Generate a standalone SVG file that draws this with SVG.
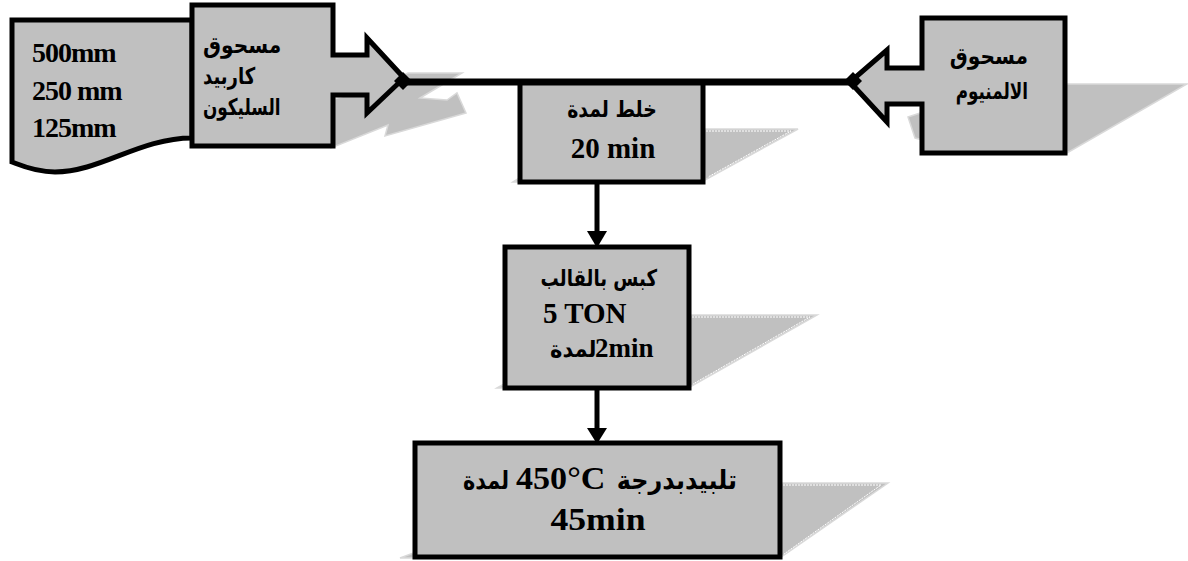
<svg xmlns="http://www.w3.org/2000/svg" width="1188" height="561" viewBox="0 0 1188 561">
<style>
.box{fill:#c0c0c0;stroke:#000;stroke-width:5;stroke-linejoin:miter}
.sh{fill:#c0c0c0;stroke:#d9d9d9;stroke-width:1.5}
.shl{fill:none;stroke:#fff;stroke-width:1;stroke-dasharray:2 1}
.lat{font-family:"Liberation Serif","DejaVu Sans",serif;font-weight:bold;fill:#000}
.ar{font-family:"DejaVu Sans",sans-serif;font-weight:bold;fill:#000}
.ln{stroke:#000;fill:none}
</style>

<g id="shadows">
<polygon class="sh" points="408,73 462,73 420,98 447,100 457,93 466,113 385,136 388,125 331,148 331,100 380,85"/>
<polygon class="sh" points="703,129 798,129 705,180"/>
<polyline class="shl" points="706,131 791,131 708,177"/>
<polygon class="sh" points="513,182 521,177 521,182"/>
<polygon class="sh" points="689,315 817,315 690,387"/>
<polyline class="shl" points="692,317 810,317 693,384"/>
<polygon class="sh" points="497,388 506,383 506,388"/>
<polygon class="sh" points="780,483 888,483 781,557"/>
<polyline class="shl" points="783,485 881,485 784,554"/>
<polygon class="sh" points="400,558 416,552 416,558"/>
<polygon class="sh" points="1065,84 1187,84 1067,153"/>
<polygon class="sh" points="908,117 923,112 923,140 915,138"/>
</g>

<g id="sizes">
<path class="box" d="M12,20 L192,20 L192,138 C140,138 100,172 55,172 C35,172 20,165 12,162 Z"/>
<text class="lat" font-size="28" x="32" y="62" letter-spacing="-1">500mm</text>
<text class="lat" font-size="28" x="32" y="100" letter-spacing="-1">250 mm</text>
<text class="lat" font-size="28" x="32" y="137" letter-spacing="-1">125mm</text>
</g>

<g id="sic">
<polygon class="box" points="192,5 333,5 333,55 367,55 367,38 404,78 367,113 367,95 333,95 333,146 192,146"/>
<text class="ar" font-size="23" transform="translate(203,53) scale(0.877,1)">مسحوق</text>
<text class="ar" font-size="23" transform="translate(203,84) scale(0.785,1)">كاربيد</text>
<text class="ar" font-size="23" transform="translate(203,115) scale(0.73,1)">السليكون</text>
</g>

<g id="al">
<polygon class="box" points="1065,18 922,18 922,68 887,68 887,50 850,82 887,122 887,104 922,104 922,153 1065,153"/>
<text class="ar" font-size="23" text-anchor="end" transform="translate(1028,64) scale(0.877,1)">مسحوق</text>
<text class="ar" font-size="23" text-anchor="end" transform="translate(1028,99) scale(0.73,1)">الالمنيوم</text>
</g>

<g id="connectors">
<line class="ln" x1="403" y1="82" x2="853" y2="82" stroke-width="7"/>
<polygon points="403,72 412,81 403,90 394,81" fill="#000"/>
<polygon points="853,72 862,81 853,90 844,81" fill="#000"/>
<line class="ln" x1="597" y1="182" x2="597" y2="233" stroke-width="5"/>
<polygon points="587,231 607,231 597,248" fill="#000"/>
<line class="ln" x1="597" y1="388" x2="597" y2="430" stroke-width="5"/>
<polygon points="587,428 607,428 597,444" fill="#000"/>
</g>

<g id="mix">
<rect class="box" x="520" y="83" width="183" height="99"/>
<text class="ar" font-size="23" text-anchor="middle" transform="translate(612,117) scale(0.82,1)">خلط لمدة</text>
<text class="lat" font-size="29" x="613" y="158" text-anchor="middle">20 min</text>
</g>

<g id="press">
<rect class="box" x="505" y="247" width="184" height="141"/>
<text class="ar" font-size="23" text-anchor="end" transform="translate(657,286) scale(0.79,1)">كبس بالقالب</text>
<text class="lat" font-size="29" x="543" y="323">5 TON</text>
<text class="ar" font-size="23" transform="translate(550,357) scale(0.913,1)">لمدة</text>
<text class="lat" font-size="27" x="595" y="357">2min</text>
</g>

<g id="sinter">
<rect class="box" x="415" y="443" width="365" height="114"/>
<text class="ar" font-size="25" transform="translate(463,489) scale(0.83,1)">لمدة</text>
<text class="lat" font-size="31" transform="translate(516,489) scale(1.1,1)">450°C</text>
<text class="ar" font-size="26" text-anchor="end" transform="translate(737,489) scale(0.92,1)">تلبيدبدرجة</text>
<text class="lat" font-size="31" text-anchor="middle" transform="translate(598,530) scale(1.15,1)">45min</text>
</g>
</svg>
